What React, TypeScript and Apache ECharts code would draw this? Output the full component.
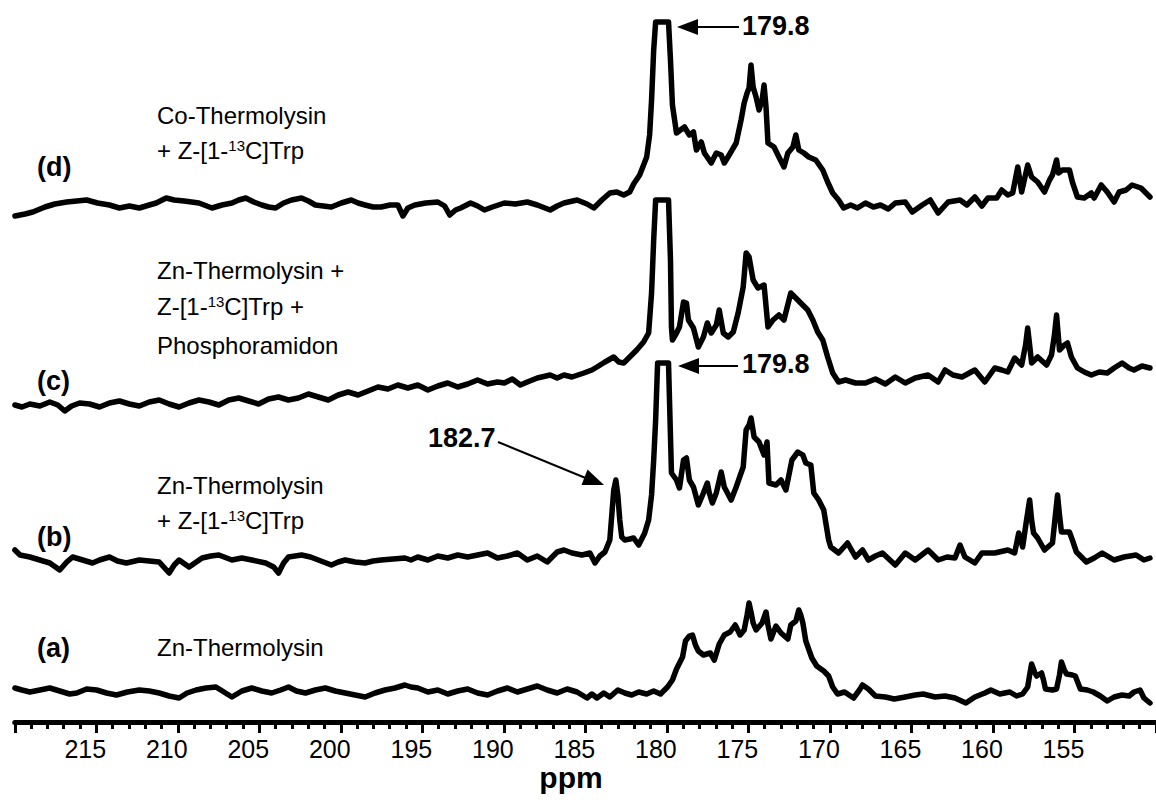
import React, { useEffect, useRef } from 'react';
import * as echarts from 'echarts';

// x axis (ppm, reversed)
const ppmMin = 150;
const ppmMax = 220;
const ppmStep = 5;

// vertical offsets of the stacked spectra (a) .. (d)
const offsetA = 32;
const offsetB = 167;
const offsetC = 317;
const offsetD = 512;

// [ppm, intensity]
const specD: [number, number][] = [
  [219.99, -6], [219.37, -4], [218.89, -2], [218.15, 3], [217.54, 6], [216.81, 8], [216.2, 9], [215.59, 10],
  [214.92, 7], [214.19, 5], [213.58, 2], [212.97, 4], [212.36, 2], [211.75, 5], [211.32, 7], [210.71, 12],
  [210.22, 10], [209.61, 9], [208.7, 7], [207.9, 2], [207.29, 5], [206.68, 7], [206.26, 10], [205.83, 12],
  [205.34, 8], [204.85, 5], [204.43, 3], [204.0, 2], [203.51, 7], [203.02, 10], [202.41, 12], [201.99, 9],
  [201.56, 5], [201.07, 4], [200.58, 3], [199.97, 7], [199.36, 10], [198.94, 7], [198.51, 5], [198.02, 3],
  [197.53, 3], [196.98, 5], [196.5, 5], [196.19, -6], [195.89, 2], [195.46, 5], [194.79, 7], [194.05, 8],
  [193.63, 4], [193.32, -5], [192.96, 0], [192.65, 2], [192.04, 7], [191.61, 4], [191.19, 0], [190.7, 3],
  [189.97, 7], [189.3, 6], [188.56, 8], [187.95, 5], [187.16, 0], [186.73, 4], [186.31, 7], [185.51, 10],
  [184.9, 6], [184.48, 2], [183.99, 10], [183.5, 17], [183.07, 18], [182.65, 15], [182.28, 18], [182.04, 26],
  [181.67, 35], [181.43, 45], [181.24, 53], [181.06, 75], [180.94, 110], [180.81, 160], [180.69, 188],
  [179.9, 188], [179.78, 150], [179.66, 105], [179.41, 77], [179.17, 80], [178.92, 83], [178.62, 75],
  [178.37, 78], [178.19, 60], [177.89, 68], [177.7, 57], [177.28, 47], [176.97, 57], [176.67, 55],
  [176.48, 47], [176.18, 55], [175.75, 67], [175.45, 90], [175.26, 107], [175.08, 117], [174.96, 122],
  [174.84, 145], [174.71, 123], [174.53, 113], [174.35, 100], [174.16, 110], [174.04, 125], [173.92, 103],
  [173.8, 67], [173.43, 63], [173.13, 53], [172.82, 43], [172.58, 57], [172.27, 63], [172.09, 75],
  [171.91, 60], [171.6, 57], [171.3, 53], [170.87, 50], [170.44, 40], [170.14, 28], [169.83, 17],
  [169.47, 10], [169.16, 2], [168.73, 5], [168.31, 2], [167.82, 7], [167.33, 3], [166.9, 5], [166.42, 1],
  [165.99, 7], [165.38, 8], [164.95, -2], [164.34, 5], [163.85, 10], [163.36, -3], [162.75, 8], [162.02, 10],
  [161.6, 5], [161.11, 13], [160.68, 4], [160.31, 12], [159.77, 12], [159.46, 20], [159.09, 15], [158.79, 17],
  [158.48, 43], [158.24, 18], [157.87, 45], [157.63, 33], [157.26, 28], [156.84, 18], [156.53, 30],
  [156.35, 35], [156.1, 50], [155.98, 37], [155.74, 40], [155.31, 40], [155.13, 28], [154.82, 13],
  [154.4, 12], [153.97, 17], [153.79, 12], [153.36, 25], [152.99, 18], [152.57, 8], [152.26, 18],
  [151.83, 20], [151.47, 25], [150.92, 22], [150.37, 13],
];

const specC: [number, number][] = [
  [219.99, 0], [219.56, -2], [219.07, 1], [218.46, -1], [217.85, 3], [217.36, 0], [216.93, -6], [216.51, -1],
  [216.02, 2], [215.41, 1], [214.8, -2], [214.19, 2], [213.58, 4], [212.97, 1], [212.36, -1], [211.75, 3],
  [211.14, 5], [210.53, 1], [209.92, -2], [209.31, 2], [208.7, 5], [208.09, 3], [207.48, 0], [206.87, 5],
  [206.26, 7], [205.65, 4], [205.04, 1], [204.43, 6], [203.82, 8], [203.21, 5], [202.6, 7], [201.99, 11],
  [201.38, 8], [200.77, 5], [200.16, 10], [199.55, 13], [198.94, 10], [198.33, 14], [197.72, 18],
  [197.11, 16], [196.5, 20], [195.89, 17], [195.28, 20], [194.66, 15], [194.05, 19], [193.44, 22],
  [192.83, 18], [192.22, 21], [191.61, 25], [191.0, 21], [190.39, 23], [189.97, 22], [189.48, 26],
  [188.99, 20], [188.56, 23], [187.95, 27], [187.16, 30], [186.73, 27], [186.31, 30], [185.82, 28],
  [185.09, 32], [184.6, 35], [184.29, 38], [183.8, 43], [183.26, 48], [182.95, 43], [182.65, 42],
  [182.28, 48], [181.85, 55], [181.43, 63], [181.12, 72], [180.94, 112], [180.81, 165], [180.69, 205],
  [179.9, 205], [179.78, 145], [179.72, 78], [179.66, 65], [179.41, 72], [179.23, 78], [178.98, 103],
  [178.8, 102], [178.68, 85], [178.37, 77], [178.07, 58], [177.76, 68], [177.52, 82], [177.28, 72],
  [176.97, 80], [176.79, 95], [176.54, 72], [176.24, 68], [175.93, 73], [175.63, 92], [175.32, 118],
  [175.14, 152], [174.96, 148], [174.71, 125], [174.41, 117], [174.04, 120], [173.8, 78], [173.49, 85],
  [173.13, 90], [172.82, 85], [172.4, 112], [172.09, 107], [171.79, 102], [171.36, 95], [171.05, 85],
  [170.75, 73], [170.44, 65], [170.14, 48], [169.83, 32], [169.47, 23], [169.04, 25], [168.43, 22],
  [167.82, 22], [167.21, 26], [166.6, 21], [165.99, 28], [165.38, 22], [164.77, 27], [163.98, 30],
  [163.36, 23], [162.94, 35], [162.45, 30], [161.9, 28], [161.11, 35], [160.5, 23], [159.89, 37],
  [159.46, 35], [159.09, 33], [158.67, 47], [158.24, 40], [158.0, 60], [157.87, 77], [157.75, 60],
  [157.63, 42], [157.26, 48], [156.71, 40], [156.41, 50], [156.23, 70], [156.1, 90], [155.92, 55],
  [155.62, 60], [155.43, 62], [155.19, 48], [154.82, 37], [154.4, 33], [153.97, 30], [153.48, 33],
  [152.99, 32], [152.57, 37], [152.08, 42], [151.65, 37], [151.35, 35], [150.86, 39], [150.37, 37],
];

const specB: [number, number][] = [
  [219.99, 5], [219.68, 0], [219.07, -2], [218.46, -5], [217.85, -8], [217.24, -15], [216.81, -7],
  [216.45, -2], [215.84, -5], [215.23, -8], [214.8, -5], [214.19, -2], [213.7, -6], [213.15, -8],
  [212.36, -5], [211.75, -6], [211.14, -7], [210.53, -18], [210.22, -10], [209.92, -5], [209.31, -12],
  [208.51, -3], [207.97, -1], [207.48, 0], [206.68, -5], [206.07, -3], [205.46, -5], [204.61, -8],
  [204.12, -12], [203.82, -18], [203.51, -8], [203.21, -2], [202.41, 0], [201.86, -2], [201.38, -5],
  [200.58, -10], [200.16, -7], [199.73, -5], [199.12, -7], [198.51, -8], [198.02, -6], [197.53, -5],
  [196.8, -4], [196.07, -3], [195.7, -5], [195.28, -2], [194.66, -5], [194.05, -1], [193.44, -3],
  [192.83, 0], [192.22, -2], [191.61, 0], [191.0, 2], [190.39, -3], [189.78, -1], [189.17, 2],
  [188.56, -5], [187.95, -1], [187.34, -7], [186.73, 3], [186.31, 5], [185.82, 2], [185.21, 0],
  [184.72, 2], [184.41, -8], [184.11, -1], [183.8, 3], [183.5, 15], [183.38, 40], [183.26, 65],
  [183.13, 75], [183.01, 60], [182.89, 35], [182.77, 18], [182.58, 15], [182.28, 16], [182.04, 17],
  [181.73, 10], [181.36, 22], [181.12, 35], [180.94, 60], [180.81, 95], [180.69, 135], [180.57, 192],
  [179.9, 192], [179.84, 155], [179.72, 82], [179.41, 75], [179.23, 67], [178.98, 95], [178.8, 97],
  [178.62, 75], [178.37, 68], [178.07, 50], [177.76, 62], [177.52, 72], [177.4, 62], [177.21, 52],
  [176.97, 62], [176.67, 83], [176.48, 68], [176.06, 55], [175.75, 68], [175.32, 88], [175.14, 125],
  [174.96, 130], [174.84, 137], [174.65, 118], [174.35, 113], [174.04, 100], [173.86, 113], [173.74, 72],
  [173.31, 70], [173.0, 75], [172.7, 65], [172.33, 95], [171.97, 103], [171.66, 100], [171.48, 92],
  [171.17, 90], [170.99, 62], [170.69, 55], [170.38, 45], [170.08, 15], [169.95, 8], [169.47, 2],
  [168.92, 12], [168.43, -2], [168.0, 5], [167.64, -5], [167.21, -1], [166.78, 2], [165.99, -10],
  [165.38, 2], [164.77, -5], [163.98, 5], [163.36, -5], [162.82, -2], [162.33, -3], [162.02, 10],
  [161.72, -2], [161.11, -8], [160.68, 2], [159.89, 2], [159.09, 5], [158.67, 2], [158.42, 22],
  [158.18, 8], [157.94, 35], [157.75, 55], [157.63, 35], [157.51, 22], [157.26, 17], [156.84, 5],
  [156.35, 12], [156.17, 40], [156.04, 60], [155.92, 40], [155.8, 23], [155.31, 23], [155.13, 15],
  [154.88, 3], [154.27, -7], [153.79, -3], [153.3, 2], [152.57, -5], [151.96, -2], [151.22, 0],
  [150.74, -5], [150.37, -3],
];

const specA: [number, number][] = [
  [219.99, 2], [219.56, 0], [219.07, -2], [218.46, 0], [217.85, 2], [217.24, -1], [216.63, -4], [216.2, -3],
  [215.59, 1], [214.98, 0], [214.37, -3], [213.76, -5], [213.09, -2], [212.36, 0], [211.75, -1],
  [211.14, -3], [210.53, -6], [209.92, -8], [209.43, -3], [208.88, 0], [208.27, 2], [207.66, 3],
  [207.17, -2], [206.68, -7], [206.07, -1], [205.46, 2], [204.85, -1], [204.24, -3], [203.69, 0],
  [203.21, 3], [202.72, -1], [202.17, -3], [201.56, 0], [200.95, 2], [200.34, -1], [199.73, -3],
  [199.12, -5], [198.51, -7], [197.9, -3], [197.29, 0], [196.68, 2], [196.07, 5], [195.7, 3], [195.28, 2],
  [194.66, -2], [194.05, 0], [193.44, -4], [192.83, -1], [192.22, 1], [191.61, -3], [191.0, -5],
  [190.39, -1], [189.78, 2], [189.17, -2], [188.56, 1], [187.95, 4], [187.34, 0], [186.73, -3],
  [186.12, 1], [185.51, -2], [184.9, -8], [184.6, -4], [184.29, -8], [183.87, -3], [183.5, -7], [183.01, 0],
  [182.58, -3], [182.16, -5], [181.73, -2], [181.24, -4], [180.81, -1], [180.39, -4], [179.96, 3],
  [179.66, 10], [179.41, 21], [179.04, 33], [178.86, 49], [178.62, 54], [178.43, 55], [178.25, 45],
  [178.07, 39], [177.76, 35], [177.34, 37], [177.09, 30], [176.79, 46], [176.48, 55], [176.12, 58],
  [175.81, 65], [175.51, 55], [175.26, 60], [175.08, 75], [174.96, 87], [174.84, 78], [174.71, 67],
  [174.53, 60], [174.16, 67], [173.92, 78], [173.8, 65], [173.62, 51], [173.31, 64], [173.0, 57],
  [172.58, 51], [172.4, 65], [172.09, 69], [171.91, 80], [171.79, 75], [171.66, 67], [171.48, 49],
  [171.11, 32], [170.81, 24], [170.38, 19], [170.08, 14], [169.83, 3], [169.53, -4], [169.1, -2],
  [168.55, -8], [168.19, 0], [168.0, 5], [167.64, 1], [167.21, -6], [166.6, -7], [166.05, -9], [165.38, -7],
  [164.77, -5], [164.28, -4], [163.55, -7], [162.94, -6], [162.33, -8], [161.66, -13], [161.11, -7],
  [160.5, -3], [160.13, 0], [159.58, -4], [158.97, -2], [158.55, -6], [158.18, -4], [157.87, 3],
  [157.75, 15], [157.63, 26], [157.45, 18], [157.32, 14], [157.02, 17], [156.9, 10], [156.78, 1],
  [156.35, 0], [156.1, 1], [155.92, 15], [155.8, 28], [155.62, 20], [155.49, 16], [155.13, 15],
  [154.95, 14], [154.64, 1], [154.21, 0], [153.85, -2], [153.42, -6], [152.99, -11], [152.57, -7],
  [152.08, -5], [151.65, -6], [151.35, -2], [150.98, 0], [150.74, -8], [150.37, -13],
];

const spectrumTags = ['(a)', '(b)', '(c)', '(d)'];
const peakLabels = ['179.8', '179.8', '182.7'];

const SANS = '"Liberation Sans", Arial, Helvetica, sans-serif';
const sup = { fontSize: 15, fontFamily: SANS, verticalAlign: 'top', lineHeight: 15, fill: '#000', color: '#000' };

export default function App() {
  const ref = useRef<HTMLDivElement>(null);

  useEffect(() => {
    const chart = echarts.init(ref.current!, null, { renderer: 'svg' });
    const shift = (spec: [number, number][], off: number) => spec.map(([p, v]) => [p, off + v]);
    const lineSeries = (name: string, data: number[][]) => ({
      name,
      type: 'line',
      data,
      showSymbol: false,
      silent: true,
      clip: false,
      lineStyle: { color: '#000', width: 5.5, join: 'round', cap: 'round' },
    });

    const tagText = (t: string, y: number) => ({
      type: 'text', x: 37, y,
      style: { text: t, font: `bold 27px ${SANS}`, fill: '#000', verticalAlign: 'middle', textVerticalAlign: 'middle' },
    });
    const descText = (t: string, y: number) => ({
      type: 'text', x: 157, y,
      style: {
        text: t, font: `24px ${SANS}`, fill: '#000', verticalAlign: 'middle', textVerticalAlign: 'middle',
        rich: { sup },
      },
    });
    const peakText = (t: string, x: number, y: number) => ({
      type: 'text', x, y,
      style: { text: t, font: `bold 27px ${SANS}`, fill: '#000', verticalAlign: 'middle', textVerticalAlign: 'middle' },
    });

    chart.setOption({
      animation: false,
      backgroundColor: '#fff',
      grid: { left: 14.75, right: -6, top: 0, bottom: 78, containLabel: false },
      xAxis: {
        type: 'value',
        inverse: true,
        min: ppmMin,
        max: ppmMax,
        interval: ppmStep,
        axisLine: { show: true, lineStyle: { color: '#000', width: 5 } },
        axisTick: { show: true, length: 11, lineStyle: { color: '#000', width: 3 } },
        minorTick: { show: true, splitNumber: 5, length: 7, lineStyle: { color: '#000', width: 3 } },
        splitLine: { show: false },
        minorSplitLine: { show: false },
        axisLabel: {
          color: '#000', fontSize: 25, fontFamily: SANS, margin: 14,
          padding: [0, 22, 0, 0], showMinLabel: false, showMaxLabel: false,
        },
      },
      yAxis: { type: 'value', min: 0, max: 722, show: false },
      series: [
        lineSeries('a', shift(specA, offsetA)),
        lineSeries('b', shift(specB, offsetB)),
        lineSeries('c', shift(specC, offsetC)),
        lineSeries('d', shift(specD, offsetD)),
      ],
      graphic: [
        tagText(spectrumTags[3], 167),
        tagText(spectrumTags[2], 381),
        tagText(spectrumTags[1], 537),
        tagText(spectrumTags[0], 648),
        descText('Co-Thermolysin', 115),
        descText('+ Z-[1-{sup|13}C]Trp', 150),
        descText('Zn-Thermolysin +', 270),
        descText('Z-[1-{sup|13}C]Trp +', 306),
        descText('Phosphoramidon', 345),
        descText('Zn-Thermolysin', 485),
        descText('+ Z-[1-{sup|13}C]Trp', 520),
        descText('Zn-Thermolysin', 647),
        peakText(peakLabels[0], 742, 26),
        peakText(peakLabels[1], 742, 364),
        peakText(peakLabels[2], 428, 438),
        { type: 'line', shape: { x1: 739, y1: 27, x2: 695, y2: 27 }, style: { stroke: '#000', lineWidth: 2 } },
        { type: 'polygon', shape: { points: [[677, 27], [698, 19], [698, 35]] }, style: { fill: '#000' } },
        { type: 'line', shape: { x1: 738, y1: 366, x2: 695, y2: 366 }, style: { stroke: '#000', lineWidth: 2 } },
        { type: 'polygon', shape: { points: [[678, 366], [699, 358], [699, 374]] }, style: { fill: '#000' } },
        { type: 'line', shape: { x1: 498, y1: 442, x2: 588, y2: 479 }, style: { stroke: '#000', lineWidth: 2 } },
        { type: 'polygon', shape: { points: [[604, 485], [581.5, 485], [587.5, 469.5]] }, style: { fill: '#000' } },
        {
          type: 'text', x: 571, y: 777,
          style: { text: 'ppm', font: `bold 30px ${SANS}`, fill: '#000', align: 'center', textAlign: 'center', verticalAlign: 'middle', textVerticalAlign: 'middle' },
        },
      ],
    });
    return () => chart.dispose();
  }, []);

  return (
    <div
      ref={ref}
      style={{ position: 'absolute', left: 0, top: 0, width: 1156, height: 800, background: '#fff' }}
    />
  );
}
